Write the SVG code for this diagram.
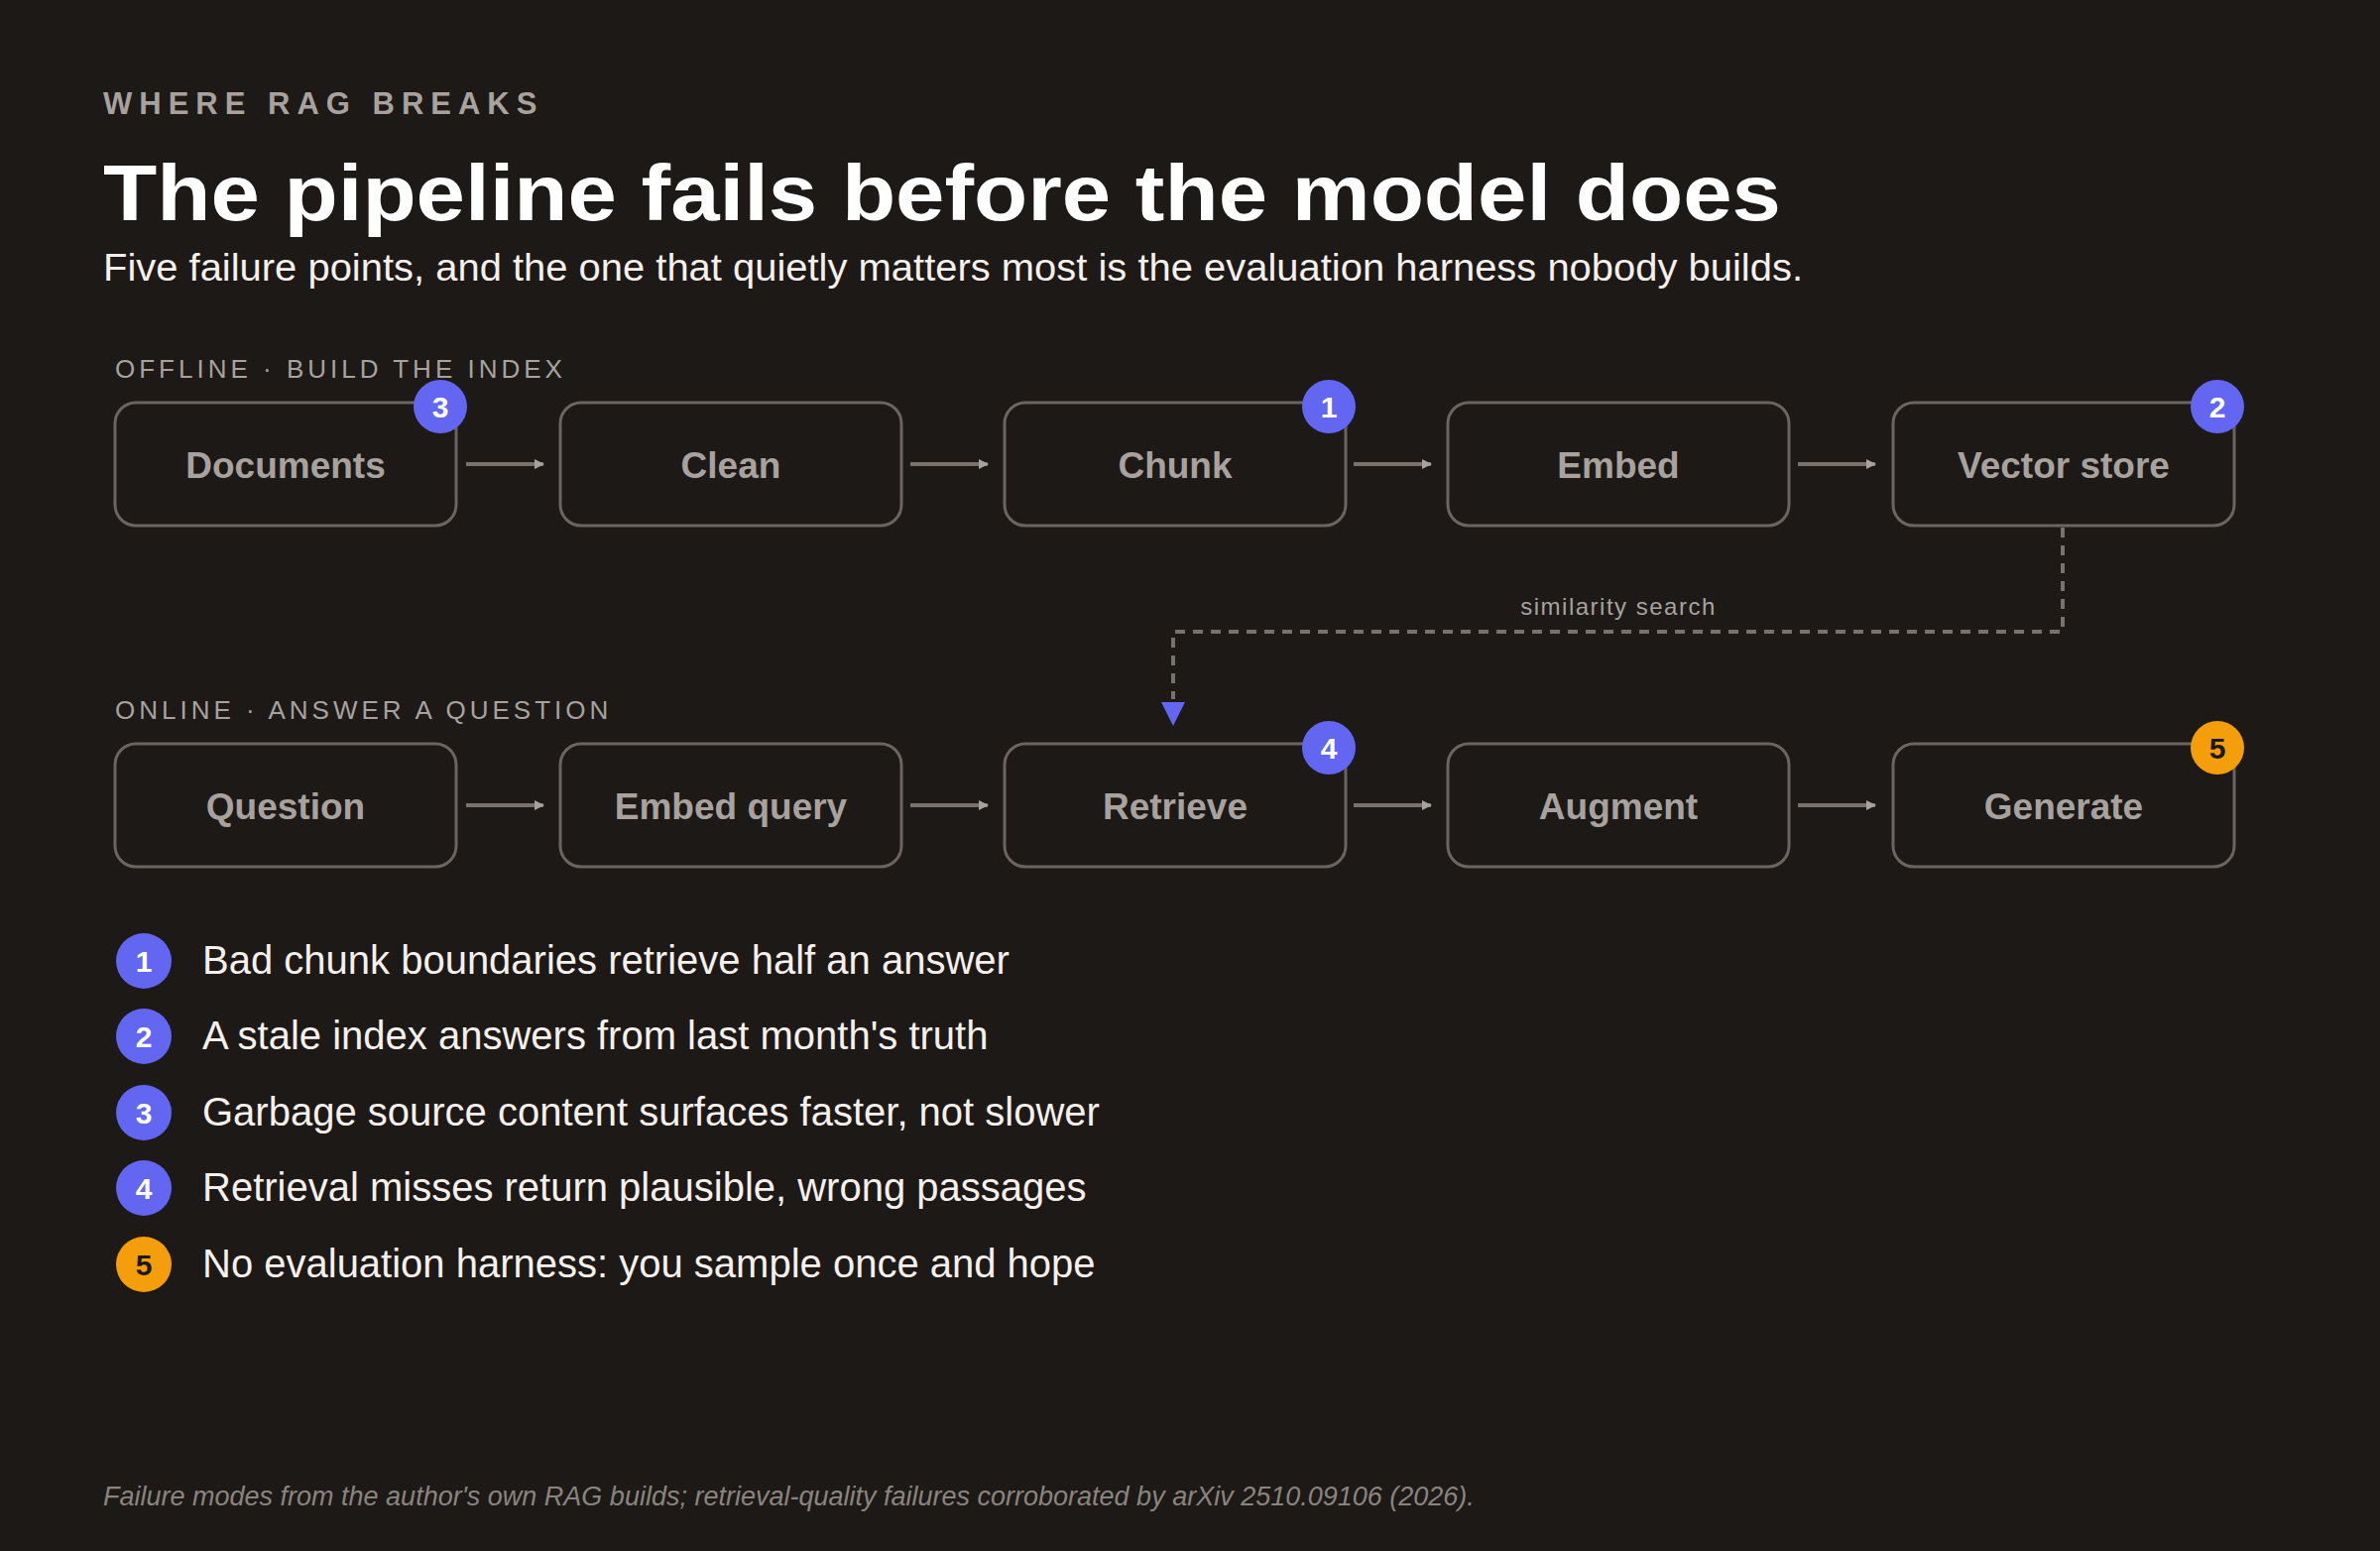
<svg xmlns="http://www.w3.org/2000/svg" width="2400" height="1564" viewBox="0 0 2400 1564">
<defs>
<marker id="ah" viewBox="0 0 10 10" refX="9" refY="5" markerWidth="10" markerHeight="10" markerUnits="userSpaceOnUse" orient="auto"><path d="M0,0 L10,5 L0,10 z" fill="#a8a29e"/></marker>
<marker id="ahb" viewBox="0 0 10 10" refX="9" refY="5" markerWidth="10" markerHeight="10" markerUnits="userSpaceOnUse" orient="auto"><path d="M0,0 L10,5 L0,10 z" fill="#6366f1"/></marker>
<style>
text{font-family:"Liberation Sans",Arial,sans-serif}
.box{fill:#1c1917;stroke:#6b6560;stroke-width:3}
.bl{fill:#a8a29e;font-size:37px;font-weight:bold;text-anchor:middle}
.sec{fill:#a8a29e;font-size:26px;letter-spacing:4px}
.arr{stroke:#78716c;stroke-width:4;fill:none}
.bdg{fill:#6366f1}
.bdo{fill:#f59e0b}
.bt{fill:#fff;font-size:30px;font-weight:bold;text-anchor:middle}
.bto{fill:#1c1917;font-size:30px;font-weight:bold;text-anchor:middle}
.li{fill:#f5f0eb;font-size:40px}
</style>
</defs>
<rect width="2400" height="1564" fill="#1c1917"/>
<text x="104" y="115" fill="#a8a29e" font-size="31" font-weight="bold" letter-spacing="7">WHERE RAG BREAKS</text>
<text x="104" y="222" fill="#ffffff" font-size="80" font-weight="900" textLength="1692" lengthAdjust="spacingAndGlyphs">The pipeline fails before the model does</text>
<text x="104" y="283" fill="#f5f0eb" font-size="38" textLength="1714" lengthAdjust="spacingAndGlyphs">Five failure points, and the one that quietly matters most is the evaluation harness nobody builds.</text>
<text class="sec" x="116" y="381">OFFLINE · BUILD THE INDEX</text>
<text class="sec" x="116" y="725">ONLINE · ANSWER A QUESTION</text>
<g id="connectors">
<line class="arr" x1="470" y1="468" x2="548" y2="468" marker-end="url(#ah)"/>
<line class="arr" x1="918" y1="468" x2="996" y2="468" marker-end="url(#ah)"/>
<line class="arr" x1="1365" y1="468" x2="1443" y2="468" marker-end="url(#ah)"/>
<line class="arr" x1="1813" y1="468" x2="1891" y2="468" marker-end="url(#ah)"/>
<line class="arr" x1="470" y1="812" x2="548" y2="812" marker-end="url(#ah)"/>
<line class="arr" x1="918" y1="812" x2="996" y2="812" marker-end="url(#ah)"/>
<line class="arr" x1="1365" y1="812" x2="1443" y2="812" marker-end="url(#ah)"/>
<line class="arr" x1="1813" y1="812" x2="1891" y2="812" marker-end="url(#ah)"/>
<path d="M2080,532 V637 H1183 V705" stroke="#78716c" stroke-width="4" fill="none" stroke-dasharray="10 8"/>
<path d="M1171,708 L1195,708 L1183,732 z" fill="#6366f1"/>
<text x="1632" y="620" fill="#a8a29e" font-size="24" text-anchor="middle" letter-spacing="1.5">similarity search</text>
</g>
<g id="documents"><rect class="box" x="116" y="406" width="344" height="124" rx="21"/><text class="bl" x="288" y="482">Documents</text></g>
<g id="clean"><rect class="box" x="565" y="406" width="344" height="124" rx="21"/><text class="bl" x="737" y="482">Clean</text></g>
<g id="chunk"><rect class="box" x="1013" y="406" width="344" height="124" rx="21"/><text class="bl" x="1185" y="482">Chunk</text></g>
<g id="embed"><rect class="box" x="1460" y="406" width="344" height="124" rx="21"/><text class="bl" x="1632" y="482">Embed</text></g>
<g id="vector-store"><rect class="box" x="1909" y="406" width="344" height="124" rx="21"/><text class="bl" x="2081" y="482">Vector store</text></g>
<g id="question"><rect class="box" x="116" y="750" width="344" height="124" rx="21"/><text class="bl" x="288" y="826">Question</text></g>
<g id="embed-query"><rect class="box" x="565" y="750" width="344" height="124" rx="21"/><text class="bl" x="737" y="826">Embed query</text></g>
<g id="retrieve"><rect class="box" x="1013" y="750" width="344" height="124" rx="21"/><text class="bl" x="1185" y="826">Retrieve</text></g>
<g id="augment"><rect class="box" x="1460" y="750" width="344" height="124" rx="21"/><text class="bl" x="1632" y="826">Augment</text></g>
<g id="generate"><rect class="box" x="1909" y="750" width="344" height="124" rx="21"/><text class="bl" x="2081" y="826">Generate</text></g>
<g id="badges">
<circle class="bdg" cx="444" cy="410" r="27"/><text class="bt" x="444" y="421">3</text>
<circle class="bdg" cx="1340" cy="410" r="27"/><text class="bt" x="1340" y="421">1</text>
<circle class="bdg" cx="2236" cy="410" r="27"/><text class="bt" x="2236" y="421">2</text>
<circle class="bdg" cx="1340" cy="754" r="27"/><text class="bt" x="1340" y="765">4</text>
<circle class="bdo" cx="2236" cy="754" r="27"/><text class="bto" x="2236" y="765">5</text>
</g>
<g id="legend">
<circle class="bdg" cx="145" cy="969" r="28"/><text class="bt" x="145" y="980">1</text><text class="li" x="204" y="982">Bad chunk boundaries retrieve half an answer</text>
<circle class="bdg" cx="145" cy="1045" r="28"/><text class="bt" x="145" y="1056">2</text><text class="li" x="204" y="1058">A stale index answers from last month's truth</text>
<circle class="bdg" cx="145" cy="1122" r="28"/><text class="bt" x="145" y="1133">3</text><text class="li" x="204" y="1135">Garbage source content surfaces faster, not slower</text>
<circle class="bdg" cx="145" cy="1198" r="28"/><text class="bt" x="145" y="1209">4</text><text class="li" x="204" y="1211">Retrieval misses return plausible, wrong passages</text>
<circle class="bdo" cx="145" cy="1275" r="28"/><text class="bto" x="145" y="1286">5</text><text class="li" x="204" y="1288">No evaluation harness: you sample once and hope</text>
</g>
<text x="104" y="1518" fill="#8a847e" font-size="27" font-style="italic">Failure modes from the author's own RAG builds; retrieval-quality failures corroborated by arXiv 2510.09106 (2026).</text>
</svg>
